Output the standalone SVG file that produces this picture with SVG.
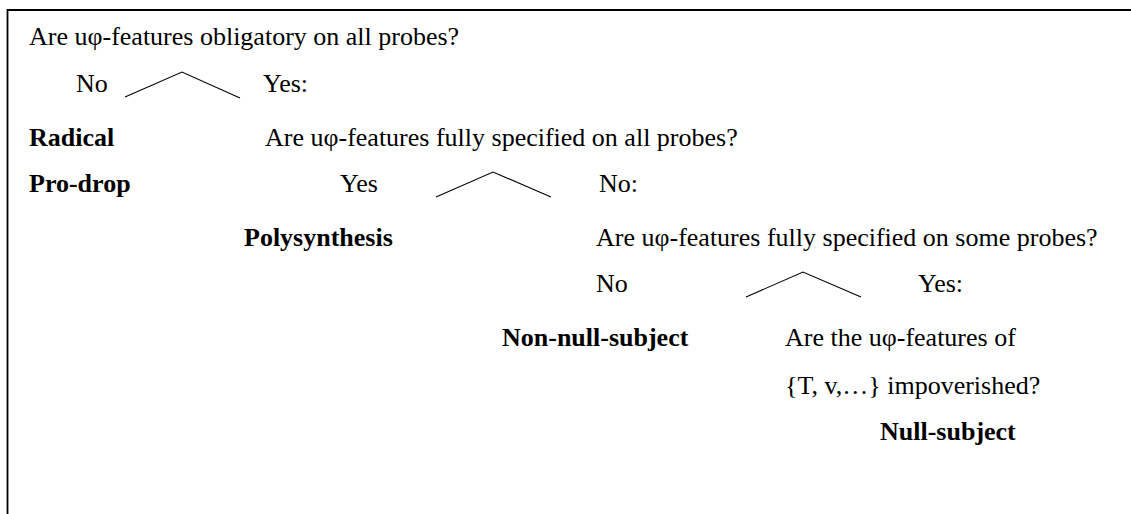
<svg xmlns="http://www.w3.org/2000/svg" width="1131" height="514" viewBox="0 0 1131 514">
  <style>
    .t { font-family: "Liberation Serif", "Times New Roman", Tinos, "Nimbus Roman", "DejaVu Serif", serif; font-size: 26px; fill: #000; }
    .b { font-weight: bold; }
    .frame { fill: none; stroke: #000; stroke-width: 1.8; }
    .branch { fill: none; stroke: #000; stroke-width: 1.1; }
  </style>
  <rect width="1131" height="514" fill="#fff"/>
  <!-- open frame: left and top edges -->
  <path class="frame" d="M7.5,514 V10 H1131"/>

  <!-- branching connectors -->
  <g id="connectors">
    <polyline class="branch" points="125,97 182,72 240,98"/>
    <polyline class="branch" points="436,197 493,172 551,197"/>
    <polyline class="branch" points="746,297 803,272 861,297"/>
  </g>

  <g class="t" font-family="Liberation Serif, serif">
    <g id="q1"><text x="29" y="45">Are uφ-features obligatory on all probes?</text></g>
    <g id="q1-no"><text x="76" y="92">No</text></g>
    <g id="q1-yes"><text x="263" y="92">Yes:</text></g>

    <g id="radical-prodrop">
      <text class="b" x="29" y="146">Radical</text>
      <text class="b" x="29" y="192">Pro-drop</text>
    </g>
    <g id="q2"><text x="265" y="146">Are uφ-features fully specified on all probes?</text></g>
    <g id="q2-yes"><text x="340" y="192">Yes</text></g>
    <g id="q2-no"><text x="599" y="192">No:</text></g>

    <g id="polysynthesis"><text class="b" x="244" y="246">Polysynthesis</text></g>
    <g id="q3"><text x="596" y="246">Are uφ-features fully specified on some probes?</text></g>
    <g id="q3-no"><text x="596" y="292">No</text></g>
    <g id="q3-yes"><text x="918" y="292">Yes:</text></g>

    <g id="non-null-subject"><text class="b" x="502" y="346">Non-null-subject</text></g>
    <g id="q4">
      <text x="785" y="346">Are the uφ-features of</text>
      <text x="785" y="394">{T, v,…} impoverished?</text>
    </g>
    <g id="null-subject"><text class="b" x="880" y="440">Null-subject</text></g>
  </g>
</svg>
